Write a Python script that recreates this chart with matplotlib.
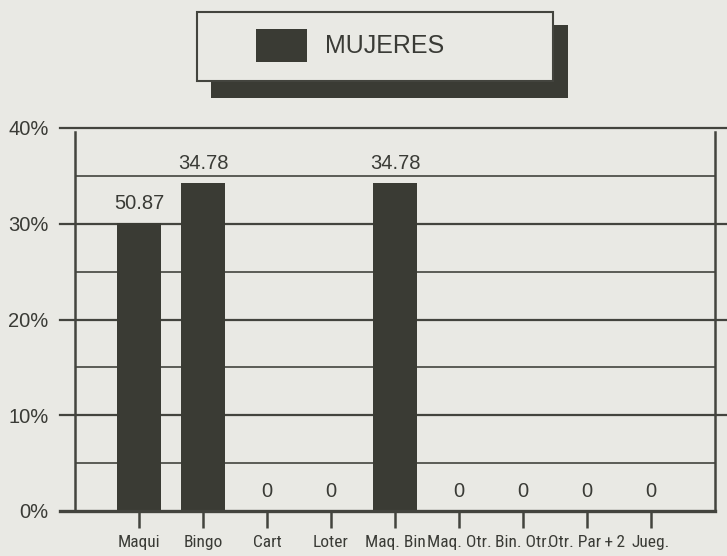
import matplotlib.pyplot as plt
from matplotlib.patches import Rectangle

# data
categories = ['Maqui', 'Bingo', 'Cart', 'Loter', 'Maq. Bin', 'Maq. Otr.',
              'Bin. Otr.', 'Otr. Par\u2009+\u20092', 'Jueg.']
heights = [30.1, 34.3, 0, 0, 34.3, 0, 0, 0, 0]
value_labels = ['50.87', '34.78', '0', '0', '34.78', '0', '0', '0', '0']
y_ticks = [0, 10, 20, 30, 40]
y_tick_labels = ['0%', '10%', '20%', '30%', '40%']
minor_lines = [5, 15, 25, 35]
legend_label = 'MUJERES'

bg = '#e9e9e4'
dark = '#3a3b34'
line = '#43443e'
txt = '#3a3b36'

fig = plt.figure(figsize=(7.27, 5.56), dpi=100, facecolor=bg)
ax = fig.add_axes([75 / 727, 45 / 556, 640 / 727, 383 / 556])
ax.set_facecolor(bg)

x = list(range(len(categories)))
ax.bar(x, heights, width=0.7, color=dark, zorder=3)

for i, (h, lab) in enumerate(zip(heights, value_labels)):
    ax.annotate(lab, (i, h), xytext=(0, 7), textcoords='offset points',
                ha='center', va='bottom', fontsize=14.5, color=txt,
                family='Liberation Sans')

ax.set_xlim(-1, 9)
ax.set_ylim(0, 40)
for s in ax.spines.values():
    s.set_visible(False)

trans = ax.get_yaxis_transform()
for y in y_ticks[1:]:
    ax.plot([-0.0234, 1.019], [y, y], transform=trans, color=line, lw=1.6,
            clip_on=False, zorder=2)
ax.plot([-0.0234, 1.0], [0, 0], transform=trans, color=line, lw=2.4,
        clip_on=False, zorder=4)
for y in minor_lines:
    ax.plot([0, 1], [y, y], transform=trans, color=line, lw=1.2, zorder=2)
ax.plot([-1, -1], [0, 39.6], color=line, lw=1.8, zorder=4, clip_on=False)
ax.plot([9, 9], [0, 39.6], color=line, lw=1.8, zorder=4, clip_on=False)

ax.set_yticks(y_ticks)
ax.set_yticklabels(y_tick_labels, fontsize=14.5, color=txt,
                   family='Liberation Sans')
ax.tick_params(axis='y', length=0, pad=19)

ax.set_xticks(x)
ax.set_xticklabels(categories, fontsize=12.5, color=txt,
                   family=['Roboto Condensed', 'DejaVu Sans'],
                   fontstretch='condensed')
ax.tick_params(axis='x', length=12, width=1.8, color=line, pad=5)

# legend box with shadow
fig.add_artist(Rectangle((211 / 727, 1 - 98 / 556), 357 / 727, 73 / 556,
                         transform=fig.transFigure, facecolor=dark,
                         edgecolor='none'))
fig.add_artist(Rectangle((197 / 727, 1 - 81 / 556), 356 / 727, 69 / 556,
                         transform=fig.transFigure, facecolor=bg,
                         edgecolor=line, lw=1.5))
fig.add_artist(Rectangle((256 / 727, 1 - 62 / 556), 51 / 727, 33 / 556,
                         transform=fig.transFigure, facecolor=dark,
                         edgecolor='none'))
fig.text(325 / 727, 1 - 46 / 556, legend_label, fontsize=18, color=txt,
         va='center', ha='left', family='Liberation Sans')

fig.savefig('out.png', dpi=100, facecolor=bg)
